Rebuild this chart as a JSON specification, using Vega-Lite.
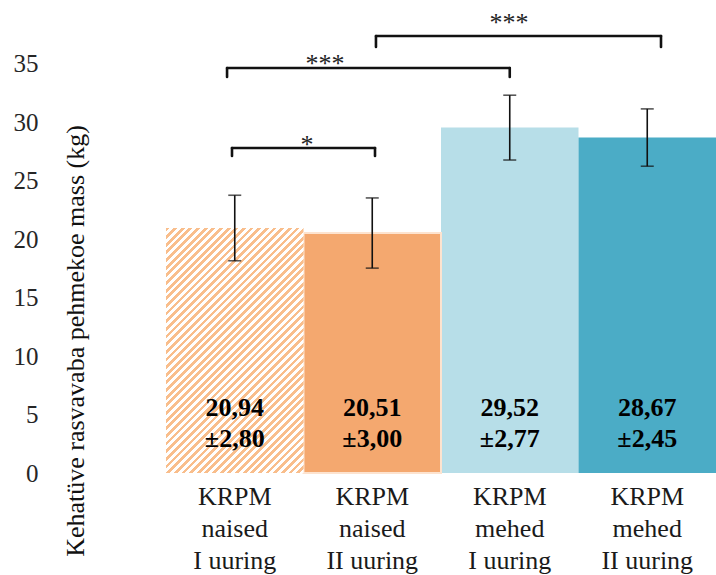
{
  "$schema": "https://vega.github.io/schema/vega-lite/v6.json",
  "autosize": {"type": "none"},
  "padding": {"left": 166, "top": 63.5, "right": 0, "bottom": 102},
  "width": 550,
  "height": 409.5,
  "config": {"view": {"stroke": null}, "font": "Liberation Serif", "axis": {"grid": false}},
  "datasets": {
    "bars": [
      {"group": "KRPM|naised|I uuring", "mean": 20.94, "sd": 2.80, "m": "20,94", "s": "±2,80"},
      {"group": "KRPM|naised|II uuring", "mean": 20.51, "sd": 3.00, "m": "20,51", "s": "±3,00"},
      {"group": "KRPM|mehed|I uuring", "mean": 29.52, "sd": 2.77, "m": "29,52", "s": "±2,77"},
      {"group": "KRPM|mehed|II uuring", "mean": 28.67, "sd": 2.45, "m": "28,67", "s": "±2,45"}
    ],
    "brackets": [
      {"x1": 0.48, "x2": 1.52, "y": 27.78, "yd": 27.1, "sx": 1.025, "sy": 27.35, "stars": "*"},
      {"x1": 0.444, "x2": 2.5, "y": 34.62, "yd": 33.85, "sx": 1.156, "sy": 34.3, "stars": "***"},
      {"x1": 1.527, "x2": 3.6, "y": 37.35, "yd": 36.41, "sx": 2.495, "sy": 37.78, "stars": "***"}
    ]
  },
  "layer": [
    {
      "data": {"name": "bars"},
      "encoding": {
        "x": {
          "field": "group", "type": "nominal", "sort": null,
          "scale": {"paddingInner": 0, "paddingOuter": 0},
          "axis": {
            "title": null, "labelExpr": "split(datum.label, '|')", "labelAngle": 0,
            "domain": false, "ticks": false, "labelFontSize": 26, "labelColor": "#1a1a1a",
            "labelPadding": 10, "labelLineHeight": 32, "labelFont": "Liberation Serif", "labelLimit": 300
          }
        },
        "y": {
          "field": "mean", "type": "quantitative",
          "title": "Kehatüve rasvavaba pehmekoe mass (kg)",
          "scale": {"domain": [0, 35], "nice": false, "zero": true},
          "axis": {
            "values": [0, 5, 10, 15, 20, 25, 30, 35],
            "domain": false, "ticks": false, "grid": false,
            "labelFontSize": 25, "labelPadding": 128, "labelColor": "#262626", "labelFont": "Liberation Serif",
            "titleFontSize": 26, "titleFontWeight": "normal", "titleColor": "#111", "titleFont": "Liberation Serif",
            "titleX": -83, "titleY": 277, "titleAngle": -90, "titleAlign": "center", "titleBaseline": "alphabetic"
          }
        }
      },
      "layer": [
        {
          "mark": {"type": "bar"},
          "encoding": {
            "color": {
              "field": "group", "type": "nominal", "legend": null,
              "scale": {
                "domain": ["KRPM|naised|I uuring", "KRPM|naised|II uuring", "KRPM|mehed|I uuring", "KRPM|mehed|II uuring"],
                "range": ["#ffffff", "#f4a86f", "#b7dee8", "#4bacc6"]
              }
            }
          }
        },
        {
          "transform": [{"filter": "datum.group == 'KRPM|naised|II uuring'"}],
          "mark": {"type": "bar", "fill": "#f4a86f", "stroke": "#fde3cf", "strokeWidth": 2}
        },
        {
          "transform": [{"filter": "datum.group == 'KRPM|naised|I uuring'"}],
          "mark": {
            "type": "bar",
            "fill": {
              "gradient": "linear", "x1": 0, "y1": 0, "x2": 0.666, "y2": 1.187,
              "stops": [
                {"offset": 0, "color": "#f9be8c"},
                {"offset": 0.01, "color": "#f9be8c"}, {"offset": 0.01, "color": "#fff"},
                {"offset": 0.02, "color": "#fff"}, {"offset": 0.02, "color": "#f9be8c"},
                {"offset": 0.03, "color": "#f9be8c"}, {"offset": 0.03, "color": "#fff"},
                {"offset": 0.04, "color": "#fff"}, {"offset": 0.04, "color": "#f9be8c"},
                {"offset": 0.05, "color": "#f9be8c"}, {"offset": 0.05, "color": "#fff"},
                {"offset": 0.06, "color": "#fff"}, {"offset": 0.06, "color": "#f9be8c"},
                {"offset": 0.07, "color": "#f9be8c"}, {"offset": 0.07, "color": "#fff"},
                {"offset": 0.08, "color": "#fff"}, {"offset": 0.08, "color": "#f9be8c"},
                {"offset": 0.09, "color": "#f9be8c"}, {"offset": 0.09, "color": "#fff"},
                {"offset": 0.10, "color": "#fff"}, {"offset": 0.10, "color": "#f9be8c"},
                {"offset": 0.11, "color": "#f9be8c"}, {"offset": 0.11, "color": "#fff"},
                {"offset": 0.12, "color": "#fff"}, {"offset": 0.12, "color": "#f9be8c"},
                {"offset": 0.13, "color": "#f9be8c"}, {"offset": 0.13, "color": "#fff"},
                {"offset": 0.14, "color": "#fff"}, {"offset": 0.14, "color": "#f9be8c"},
                {"offset": 0.15, "color": "#f9be8c"}, {"offset": 0.15, "color": "#fff"},
                {"offset": 0.16, "color": "#fff"}, {"offset": 0.16, "color": "#f9be8c"},
                {"offset": 0.17, "color": "#f9be8c"}, {"offset": 0.17, "color": "#fff"},
                {"offset": 0.18, "color": "#fff"}, {"offset": 0.18, "color": "#f9be8c"},
                {"offset": 0.19, "color": "#f9be8c"}, {"offset": 0.19, "color": "#fff"},
                {"offset": 0.20, "color": "#fff"}, {"offset": 0.20, "color": "#f9be8c"},
                {"offset": 0.21, "color": "#f9be8c"}, {"offset": 0.21, "color": "#fff"},
                {"offset": 0.22, "color": "#fff"}, {"offset": 0.22, "color": "#f9be8c"},
                {"offset": 0.23, "color": "#f9be8c"}, {"offset": 0.23, "color": "#fff"},
                {"offset": 0.24, "color": "#fff"}, {"offset": 0.24, "color": "#f9be8c"},
                {"offset": 0.25, "color": "#f9be8c"}, {"offset": 0.25, "color": "#fff"},
                {"offset": 0.26, "color": "#fff"}, {"offset": 0.26, "color": "#f9be8c"},
                {"offset": 0.27, "color": "#f9be8c"}, {"offset": 0.27, "color": "#fff"},
                {"offset": 0.28, "color": "#fff"}, {"offset": 0.28, "color": "#f9be8c"},
                {"offset": 0.29, "color": "#f9be8c"}, {"offset": 0.29, "color": "#fff"},
                {"offset": 0.30, "color": "#fff"}, {"offset": 0.30, "color": "#f9be8c"},
                {"offset": 0.31, "color": "#f9be8c"}, {"offset": 0.31, "color": "#fff"},
                {"offset": 0.32, "color": "#fff"}, {"offset": 0.32, "color": "#f9be8c"},
                {"offset": 0.33, "color": "#f9be8c"}, {"offset": 0.33, "color": "#fff"},
                {"offset": 0.34, "color": "#fff"}, {"offset": 0.34, "color": "#f9be8c"},
                {"offset": 0.35, "color": "#f9be8c"}, {"offset": 0.35, "color": "#fff"},
                {"offset": 0.36, "color": "#fff"}, {"offset": 0.36, "color": "#f9be8c"},
                {"offset": 0.37, "color": "#f9be8c"}, {"offset": 0.37, "color": "#fff"},
                {"offset": 0.38, "color": "#fff"}, {"offset": 0.38, "color": "#f9be8c"},
                {"offset": 0.39, "color": "#f9be8c"}, {"offset": 0.39, "color": "#fff"},
                {"offset": 0.40, "color": "#fff"}, {"offset": 0.40, "color": "#f9be8c"},
                {"offset": 0.41, "color": "#f9be8c"}, {"offset": 0.41, "color": "#fff"},
                {"offset": 0.42, "color": "#fff"}, {"offset": 0.42, "color": "#f9be8c"},
                {"offset": 0.43, "color": "#f9be8c"}, {"offset": 0.43, "color": "#fff"},
                {"offset": 0.44, "color": "#fff"}, {"offset": 0.44, "color": "#f9be8c"},
                {"offset": 0.45, "color": "#f9be8c"}, {"offset": 0.45, "color": "#fff"},
                {"offset": 0.46, "color": "#fff"}, {"offset": 0.46, "color": "#f9be8c"},
                {"offset": 0.47, "color": "#f9be8c"}, {"offset": 0.47, "color": "#fff"},
                {"offset": 0.48, "color": "#fff"}, {"offset": 0.48, "color": "#f9be8c"},
                {"offset": 0.49, "color": "#f9be8c"}, {"offset": 0.49, "color": "#fff"},
                {"offset": 0.50, "color": "#fff"}, {"offset": 0.50, "color": "#f9be8c"},
                {"offset": 0.51, "color": "#f9be8c"}, {"offset": 0.51, "color": "#fff"},
                {"offset": 0.52, "color": "#fff"}, {"offset": 0.52, "color": "#f9be8c"},
                {"offset": 0.53, "color": "#f9be8c"}, {"offset": 0.53, "color": "#fff"},
                {"offset": 0.54, "color": "#fff"}, {"offset": 0.54, "color": "#f9be8c"},
                {"offset": 0.55, "color": "#f9be8c"}, {"offset": 0.55, "color": "#fff"},
                {"offset": 0.56, "color": "#fff"}, {"offset": 0.56, "color": "#f9be8c"},
                {"offset": 0.57, "color": "#f9be8c"}, {"offset": 0.57, "color": "#fff"},
                {"offset": 0.58, "color": "#fff"}, {"offset": 0.58, "color": "#f9be8c"},
                {"offset": 0.59, "color": "#f9be8c"}, {"offset": 0.59, "color": "#fff"},
                {"offset": 0.60, "color": "#fff"}, {"offset": 0.60, "color": "#f9be8c"},
                {"offset": 0.61, "color": "#f9be8c"}, {"offset": 0.61, "color": "#fff"},
                {"offset": 0.62, "color": "#fff"}, {"offset": 0.62, "color": "#f9be8c"},
                {"offset": 0.63, "color": "#f9be8c"}, {"offset": 0.63, "color": "#fff"},
                {"offset": 0.64, "color": "#fff"}, {"offset": 0.64, "color": "#f9be8c"},
                {"offset": 0.65, "color": "#f9be8c"}, {"offset": 0.65, "color": "#fff"},
                {"offset": 0.66, "color": "#fff"}, {"offset": 0.66, "color": "#f9be8c"},
                {"offset": 0.67, "color": "#f9be8c"}, {"offset": 0.67, "color": "#fff"},
                {"offset": 0.68, "color": "#fff"}, {"offset": 0.68, "color": "#f9be8c"},
                {"offset": 0.69, "color": "#f9be8c"}, {"offset": 0.69, "color": "#fff"},
                {"offset": 0.70, "color": "#fff"}, {"offset": 0.70, "color": "#f9be8c"},
                {"offset": 0.71, "color": "#f9be8c"}, {"offset": 0.71, "color": "#fff"},
                {"offset": 0.72, "color": "#fff"}, {"offset": 0.72, "color": "#f9be8c"},
                {"offset": 0.73, "color": "#f9be8c"}, {"offset": 0.73, "color": "#fff"},
                {"offset": 0.74, "color": "#fff"}, {"offset": 0.74, "color": "#f9be8c"},
                {"offset": 0.75, "color": "#f9be8c"}, {"offset": 0.75, "color": "#fff"},
                {"offset": 0.76, "color": "#fff"}, {"offset": 0.76, "color": "#f9be8c"},
                {"offset": 0.77, "color": "#f9be8c"}, {"offset": 0.77, "color": "#fff"},
                {"offset": 0.78, "color": "#fff"}, {"offset": 0.78, "color": "#f9be8c"},
                {"offset": 0.79, "color": "#f9be8c"}, {"offset": 0.79, "color": "#fff"},
                {"offset": 0.80, "color": "#fff"}, {"offset": 0.80, "color": "#f9be8c"},
                {"offset": 0.81, "color": "#f9be8c"}, {"offset": 0.81, "color": "#fff"},
                {"offset": 0.82, "color": "#fff"}, {"offset": 0.82, "color": "#f9be8c"},
                {"offset": 0.83, "color": "#f9be8c"}, {"offset": 0.83, "color": "#fff"},
                {"offset": 0.84, "color": "#fff"}, {"offset": 0.84, "color": "#f9be8c"},
                {"offset": 0.85, "color": "#f9be8c"}, {"offset": 0.85, "color": "#fff"},
                {"offset": 0.86, "color": "#fff"}, {"offset": 0.86, "color": "#f9be8c"},
                {"offset": 0.87, "color": "#f9be8c"}, {"offset": 0.87, "color": "#fff"},
                {"offset": 0.88, "color": "#fff"}, {"offset": 0.88, "color": "#f9be8c"},
                {"offset": 0.89, "color": "#f9be8c"}, {"offset": 0.89, "color": "#fff"},
                {"offset": 0.90, "color": "#fff"}, {"offset": 0.90, "color": "#f9be8c"},
                {"offset": 0.91, "color": "#f9be8c"}, {"offset": 0.91, "color": "#fff"},
                {"offset": 0.92, "color": "#fff"}, {"offset": 0.92, "color": "#f9be8c"},
                {"offset": 0.93, "color": "#f9be8c"}, {"offset": 0.93, "color": "#fff"},
                {"offset": 0.94, "color": "#fff"}, {"offset": 0.94, "color": "#f9be8c"},
                {"offset": 0.95, "color": "#f9be8c"}, {"offset": 0.95, "color": "#fff"},
                {"offset": 0.96, "color": "#fff"}, {"offset": 0.96, "color": "#f9be8c"},
                {"offset": 0.97, "color": "#f9be8c"}, {"offset": 0.97, "color": "#fff"},
                {"offset": 0.98, "color": "#fff"}, {"offset": 0.98, "color": "#f9be8c"},
                {"offset": 0.99, "color": "#f9be8c"}, {"offset": 0.99, "color": "#fff"},
                {"offset": 1, "color": "#fff"}
              ]
            }
          }
        },
        {
          "mark": {"type": "errorbar", "ticks": true, "size": 13, "thickness": 1.6, "color": "#111"},
          "encoding": {"yError": {"field": "sd"}}
        },
        {
          "mark": {"type": "text", "fontSize": 26, "fontWeight": "bold", "font": "Liberation Serif", "color": "#000", "baseline": "alphabetic"},
          "encoding": {"y": {"datum": 4.87, "title": "Kehatüve rasvavaba pehmekoe mass (kg)"}, "text": {"field": "m"}}
        },
        {
          "mark": {"type": "text", "fontSize": 26, "fontWeight": "bold", "font": "Liberation Serif", "color": "#000", "baseline": "alphabetic"},
          "encoding": {"y": {"datum": 2.22, "title": "Kehatüve rasvavaba pehmekoe mass (kg)"}, "text": {"field": "s"}}
        }
      ]
    },
    {
      "data": {"name": "brackets"},
      "encoding": {
        "y": {"field": "y", "type": "quantitative", "title": "Kehatüve rasvavaba pehmekoe mass (kg)", "scale": {"domain": [0, 35], "nice": false}}
      },
      "layer": [
        {
          "mark": {"type": "rule", "strokeWidth": 2.6, "color": "#111", "strokeCap": "round"},
          "encoding": {
            "x": {"field": "x1", "type": "quantitative", "scale": {"domain": [0, 4], "nice": false, "zero": false}, "axis": null},
            "x2": {"field": "x2"}
          }
        },
        {
          "mark": {"type": "rule", "strokeWidth": 2.6, "color": "#111", "strokeCap": "round"},
          "encoding": {
            "x": {"field": "x1", "type": "quantitative", "scale": {"domain": [0, 4], "nice": false, "zero": false}, "axis": null},
            "y2": {"field": "yd"}
          }
        },
        {
          "mark": {"type": "rule", "strokeWidth": 2.6, "color": "#111", "strokeCap": "round"},
          "encoding": {
            "x": {"field": "x2", "type": "quantitative", "scale": {"domain": [0, 4], "nice": false, "zero": false}, "axis": null},
            "y2": {"field": "yd"}
          }
        },
        {
          "mark": {"type": "text", "fontSize": 26, "font": "Liberation Serif", "color": "#222", "baseline": "alphabetic"},
          "encoding": {
            "x": {"field": "sx", "type": "quantitative", "scale": {"domain": [0, 4], "nice": false, "zero": false}, "axis": null},
            "y": {"field": "sy", "type": "quantitative", "title": "Kehatüve rasvavaba pehmekoe mass (kg)", "scale": {"domain": [0, 35], "nice": false}},
            "text": {"field": "stars"}
          }
        }
      ]
    }
  ],
  "resolve": {"scale": {"x": "independent"}}
}
